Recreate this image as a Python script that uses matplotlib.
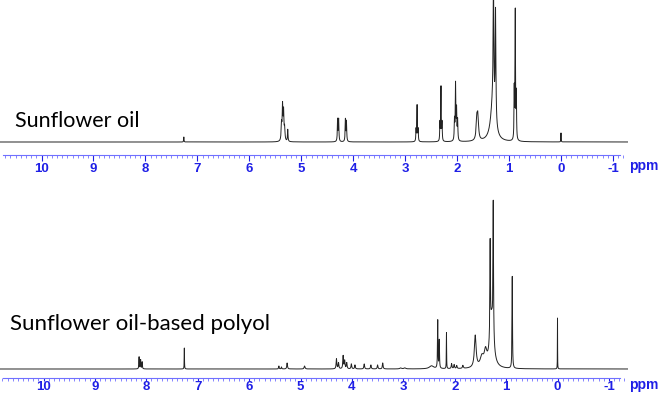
import numpy as np
import matplotlib as mpl
mpl.use('Agg')
import matplotlib.pyplot as plt
from matplotlib.ticker import MultipleLocator

# peak lists: shift (ppm), height (px above baseline), half width (ppm)
oil_ppm = [7.26, 5.38, 5.36, 5.34, 5.32, 5.26, 4.30, 4.28, 4.15, 4.13,
           2.79, 2.77, 2.75, 2.33, 2.31, 2.29, 2.05, 2.03, 2.01, 1.99,
           1.62, 1.60, 1.31, 1.30, 1.26, 0.90, 0.88, 0.86, 0.00]
oil_h = [5, 16, 34, 28, 12, 12, 22, 22, 22, 20,
         12, 36, 12, 18, 54, 18, 20, 56, 30, 20,
         20, 22, 40, 118, 110, 50, 128, 45, 9]
oil_w = [0.004, 0.008, 0.008, 0.008, 0.008, 0.006, 0.006, 0.006, 0.006, 0.006,
         0.005, 0.005, 0.005, 0.005, 0.005, 0.005, 0.006, 0.006, 0.006, 0.006,
         0.015, 0.015, 0.05, 0.008, 0.008, 0.005, 0.005, 0.005, 0.003]

polyol_ppm = [8.14, 8.11, 8.08, 7.26, 5.42, 5.37, 5.26, 4.92, 4.30, 4.26,
              4.17, 4.14, 4.10, 4.01, 3.94, 3.76, 3.63, 3.50, 3.40, 3.05,
              2.97, 2.45, 2.33, 2.30, 2.16, 2.06, 2.01, 1.96, 1.84, 1.60,
              1.47, 1.40, 1.28, 1.31, 1.25, 0.88, 0.00]
polyol_h = [12, 9, 7, 21, 3, 2, 6, 3, 10, 6,
            13, 8, 6, 5, 4, 5, 4, 4, 6, 1,
            1, 3, 48, 28, 36, 5, 4, 3, 3, 32,
            10, 14, 50, 95, 135, 92, 51]
polyol_w = [0.005, 0.005, 0.005, 0.003, 0.006, 0.006, 0.008, 0.01, 0.008, 0.008,
            0.008, 0.008, 0.008, 0.008, 0.008, 0.008, 0.008, 0.008, 0.008, 0.02,
            0.02, 0.05, 0.005, 0.005, 0.003, 0.008, 0.008, 0.008, 0.01, 0.02,
            0.04, 0.03, 0.04, 0.006, 0.006, 0.005, 0.002]

labels = ['Sunflower oil', 'Sunflower oil-based polyol']

W, H = 661, 394
blue = '#1f1fe6'


def spectrum(x, ppm, h, w):
    y = np.zeros_like(x)
    for p, a, g in zip(ppm, h, w):
        y += a * g**2 / ((x - p)**2 + g**2)
    return y


def panel(fig, top, bottom, x0ppm, pxppm, ylo, yhi, ppm, h, w, tlen, pad):
    # axes in pixel units of the figure
    ax = fig.add_axes([0, 1 - bottom / H, 628 / W, (bottom - top) / H])
    left = x0ppm / pxppm
    right = (x0ppm - 628) / pxppm
    x = np.arange(right, left, 0.0005)
    ax.plot(x, spectrum(x, ppm, h, w), color='#222222', lw=0.7)
    ax.set_xlim(left, right)
    ax.set_ylim(ylo, yhi)
    for s in ['top', 'left', 'right']:
        ax.spines[s].set_visible(False)
    ax.spines['bottom'].set_color('#7070ff')
    ax.spines['bottom'].set_linewidth(0.8)
    ax.spines['bottom'].set_bounds((x0ppm - 3) / pxppm, (x0ppm - 620) / pxppm)
    ax.set_yticks([])
    ticks = np.arange(10, -2, -1)
    ax.set_xticks(ticks)
    ax.set_xticklabels([str(t) for t in ticks])
    ax.xaxis.set_minor_locator(MultipleLocator(0.1))
    ax.tick_params(axis='x', which='major', length=tlen, width=0.8, color=blue,
                   labelcolor=blue, labelsize=9.5, pad=pad)
    ax.tick_params(axis='x', which='minor', length=2, width=0.6, color='#7070ff')
    for lab in ax.get_xticklabels():
        lab.set_fontweight('bold')
        lab.set_family('Liberation Sans')
    ax.patch.set_visible(False)
    return ax


fig = plt.figure(figsize=(W / 100, H / 100), dpi=100)

# top: 0 ppm at x=561 px, 51.95 px per ppm
panel(fig, 0, 155, 561, 51.95, -13, 142, oil_ppm, oil_h, oil_w, 4, 1.5)
# bottom: 0 ppm at x=557.5 px, 51.4 px per ppm
panel(fig, 196, 378, 557.5, 51.4, -9, 173, polyol_ppm, polyol_h, polyol_w, 2, 0.5)

fig.text(629 / W, 1 - 170 / H, 'ppm', color=blue, fontsize=10, fontweight='bold',
         family='Liberation Sans')
fig.text(629 / W, 1 - 389 / H, 'ppm', color=blue, fontsize=10, fontweight='bold',
         family='Liberation Sans')

fig.text(15 / W, 1 - 127 / H, labels[0], fontsize=15.5, family='Lato', va='baseline')
fig.text(10 / W, 1 - 330 / H, labels[1], fontsize=16, family='Lato', va='baseline')

fig.savefig('out.png', dpi=100)
